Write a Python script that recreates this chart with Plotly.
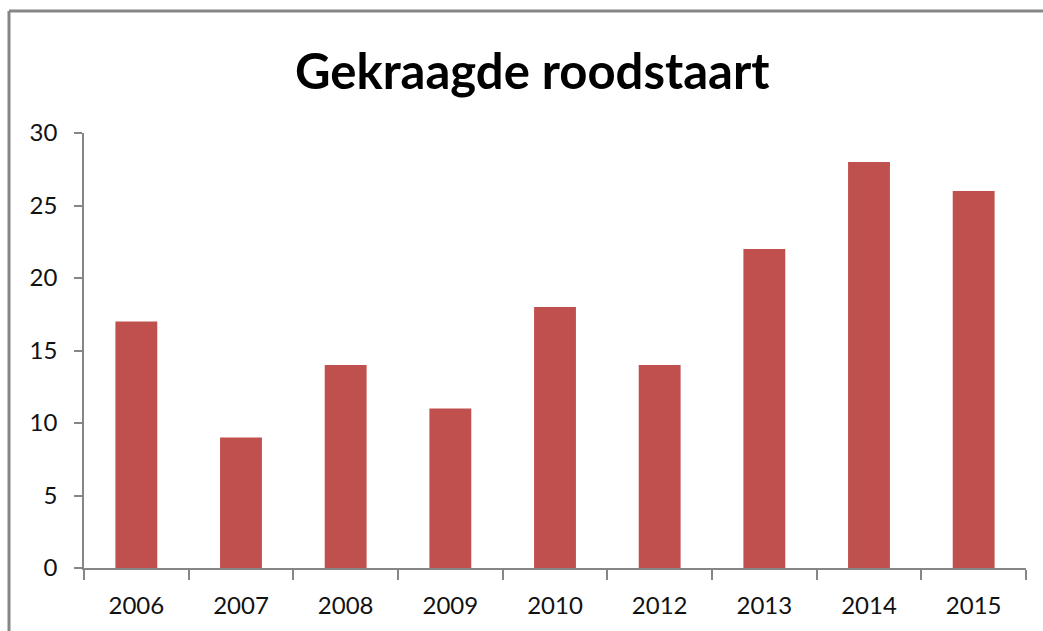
import plotly.graph_objects as go

years = ["2006", "2007", "2008", "2009", "2010", "2012", "2013", "2014", "2015"]
counts = [17, 9, 14, 11, 18, 14, 22, 28, 26]
title_text = "Gekraagde roodstaart"
y_ticks = [0, 5, 10, 15, 20, 25, 30]

W, H = 1043, 631
L, R, T, B = 84, 1026, 133, 568
pw, ph = R - L, B - T

def px_x(x):
    return (x - L) / pw

def px_y(y):
    return (B - y) / ph

axis_col = "#868686"
font_fam = "Lato, 'Open Sans', sans-serif"

fig = go.Figure(go.Bar(x=years, y=counts, width=0.4, marker=dict(color="#C0504D", line=dict(width=0))))

fig.update_layout(
    width=W, height=H,
    margin=dict(l=L, r=W - R, t=T, b=H - B, pad=0),
    paper_bgcolor="white", plot_bgcolor="white",
    showlegend=False,
    font=dict(family=font_fam, size=24, color="#000000"),
)
fig.update_xaxes(
    type="category", showgrid=False, showline=True, linecolor=axis_col, linewidth=1.5,
    ticks="outside", ticklen=10, tickcolor=axis_col, tickwidth=1.5, tickson="boundaries",
    tickfont=dict(family=font_fam, size=24, color="#111"), ticklabelstandoff=15,
)
fig.update_yaxes(
    range=[0, 30], tickvals=y_ticks, showgrid=False, zeroline=False, showline=True,
    linecolor=axis_col, linewidth=1.5, ticks="outside", ticklen=8, tickcolor=axis_col, tickwidth=1.5,
    tickfont=dict(family=font_fam, size=24, color="#111"), ticklabelstandoff=12,
)

fig.add_annotation(
    text="<b>" + title_text + "</b>", xref="paper", yref="paper",
    x=px_x(532), y=px_y(70), xanchor="center", yanchor="middle", showarrow=False,
    font=dict(family=font_fam, size=49, color="#000000"),
)

# chart border (cropped on right and bottom)
bx, by = px_x(9), px_y(11)
fig.add_shape(type="line", xref="paper", yref="paper", x0=bx, y0=px_y(H + 20), x1=bx, y1=by,
              line=dict(color=axis_col, width=3))
fig.add_shape(type="line", xref="paper", yref="paper", x0=bx, y0=by, x1=px_x(W + 20), y1=by,
              line=dict(color=axis_col, width=3))

fig.write_html(
    "out.html",
    config={"displayModeBar": False},
    post_script="document.body.style.margin='0';document.body.style.overflow='hidden';",
)
